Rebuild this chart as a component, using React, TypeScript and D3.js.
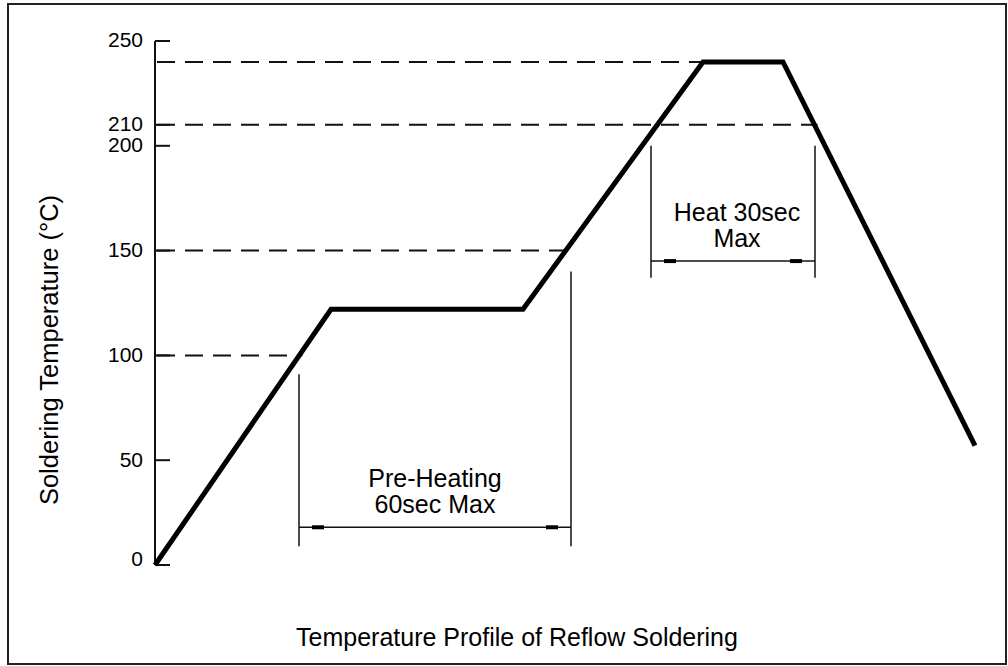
import * as d3 from 'd3';

// reflow profile (time in s, temperature in °C) - schematic
const profileTime = [0, 44, 92, 137, 157, 205];
const profileTemp = [0, 122, 122, 240, 240, 57];

const tickValues = [0, 50, 100, 150, 200, 210, 250];

// dashed guide levels and the profile segment where each one stops
const guideTemps = [100, 150, 210, 240];
const guideSegment = [0, 2, 4, 2];

// dimension markers
const preHeatTimes = [36, 104];
const preHeatTops = [91, 140];
const preHeatBottom = 9;
const preHeatArrow = 18;
const preHeatLabel = ['Pre-Heating', '60sec Max'];

const heatTimes = [124, 165];
const heatTops = [200, 200];
const heatBottom = 137;
const heatArrow = 145;
const heatLabel = ['Heat 30sec', 'Max'];

const W = 1008;
const H = 666;
const FONT = '"Liberation Sans", Arial, sans-serif';

export default function App() {
  const x = d3.scaleLinear().domain([0, 210]).range([155, 995]);
  const y = d3.scaleLinear().domain([0, 250]).range([565, 41]);

  const pts = profileTime.map((t, i) => [t, profileTemp[i]] as [number, number]);
  const line = d3.line<[number, number]>()
    .x((d) => x(d[0]))
    .y((d) => y(d[1]));

  const crossAt = (temp: number, seg: number) => {
    const [t0, v0] = pts[seg];
    const [t1, v1] = pts[seg + 1];
    return t0 + ((temp - v0) / (v1 - v0)) * (t1 - t0);
  };

  const axisX = x(0);

  const dimension = (
    times: number[], tops: number[], bottom: number, arrow: number,
    label: string[], dx: number, key: string
  ) => {
    const xa = x(times[0]);
    const xb = x(times[1]);
    const ya = y(arrow);
    return (
      <g key={key}>
        {times.map((t, i) => (
          <line key={i} x1={x(t)} x2={x(t)} y1={y(tops[i])} y2={y(bottom)}
            stroke="#111" strokeWidth={1.5} />
        ))}
        <line x1={xa} x2={xb} y1={ya} y2={ya} stroke="#111" strokeWidth={1.5} />
        <rect x={xa + 13} y={ya - 2} width={12} height={4} fill="#000" />
        <rect x={xb - 25} y={ya - 2} width={12} height={4} fill="#000" />
        <text x={(xa + xb) / 2 + dx} y={ya - 40} textAnchor="middle" fontSize={25}>{label[0]}</text>
        <text x={(xa + xb) / 2 + dx} y={ya - 14} textAnchor="middle" fontSize={25}>{label[1]}</text>
      </g>
    );
  };

  return (
    <svg width={W} height={H} style={{ position: 'absolute', left: 0, top: 0, background: '#fff' }}
      fontFamily={FONT}>
      <rect x={8} y={4} width={998} height={660} fill="#fff" stroke="#222" strokeWidth={2} />

      {/* dashed guides */}
      {guideTemps.map((temp, i) => (
        <line key={temp} x1={axisX + 2} x2={x(crossAt(temp, guideSegment[i])) + 3}
          y1={y(temp)} y2={y(temp)} stroke="#111" strokeWidth={2} strokeDasharray="18,10" />
      ))}

      {/* y axis */}
      <line x1={axisX} x2={axisX} y1={y(250)} y2={y(0)} stroke="#111" strokeWidth={2} />
      {tickValues.map((v) => (
        <g key={v}>
          <line x1={axisX} x2={axisX + 15} y1={y(v)} y2={y(v)} stroke="#111" strokeWidth={2} />
          <text x={143} y={y(v) - (v === 0 ? 6 : 1)} dy="0.35em" textAnchor="end" fontSize={21}>{v}</text>
        </g>
      ))}

      {dimension(preHeatTimes, preHeatTops, preHeatBottom, preHeatArrow, preHeatLabel, 0, 'pre')}
      {dimension(heatTimes, heatTops, heatBottom, heatArrow, heatLabel, 4, 'heat')}

      <path d={line(pts) ?? ''} fill="none" stroke="#000" strokeWidth={5} strokeLinejoin="miter" />

      <text transform="translate(58,350) rotate(-90)" textAnchor="middle" fontSize={25.5}>
        Soldering Temperature (°C)
      </text>
      <text x={517} y={646} textAnchor="middle" fontSize={25}>
        Temperature Profile of Reflow Soldering
      </text>
    </svg>
  );
}
